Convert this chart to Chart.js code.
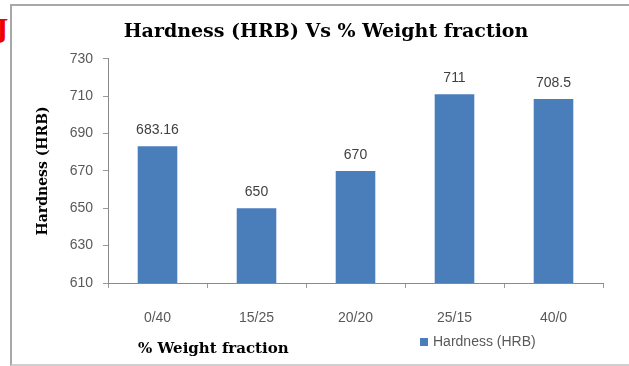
<!DOCTYPE html>
<html><head><meta charset="utf-8">
<script src="https://cdn.jsdelivr.net/npm/chart.js@4"></script>
<style>
html,body{margin:0;padding:0;background:#fff;width:629px;height:366px;overflow:hidden}
#frame{position:absolute;left:10px;top:4px;width:640px;height:358px;border-left:2px solid #a8a8a8;border-top:2px solid #a8a8a8;border-bottom:2px solid #cfcfcf;}
#j{position:absolute;left:-4px;top:13px;font:bold 26px "DejaVu Serif";color:#ee0000;line-height:32px}
#wrap{position:absolute;left:0;top:0;width:629px;height:366px}
</style></head><body>
<div id="j">J</div>
<div id="frame"></div>
<div id="wrap"><canvas id="c" width="629" height="366"></canvas></div>
<script>
const categories = ['0/40', '15/25', '20/20', '25/15', '40/0'];
const hardness = [683.16, 650, 670, 711, 708.5];
const valueLabels = ['683.16', '650', '670', '711', '708.5'];
const yTicks = [610, 630, 650, 670, 690, 710, 730];
const seriesName = 'Hardness (HRB)';
const chartTitle = 'Hardness (HRB) Vs % Weight fraction';
const xTitle = '% Weight fraction';
const yTitle = 'Hardness (HRB)';

const SANS = '"Liberation Sans", Arial, sans-serif';
const SERIF = '"DejaVu Serif", serif';
const BLUE = '#4a7ebb';

const extras = {
  id: 'extras',
  afterDatasetsDraw(chart) {
    const ctx = chart.ctx;
    const meta = chart.getDatasetMeta(0);
    const area = chart.chartArea;
    ctx.save();
    ctx.font = '14px ' + SANS;
    ctx.fillStyle = '#404040';
    ctx.textAlign = 'center';
    ctx.textBaseline = 'middle';
    meta.data.forEach((bar, i) => ctx.fillText(valueLabels[i], bar.x, bar.y - 16));
    // x-axis title, bottom left
    ctx.font = 'bold 15px ' + SERIF;
    ctx.fillStyle = '#000';
    ctx.textAlign = 'left';
    ctx.fillText(xTitle, area.left + 30, 349);
    // legend, bottom right
    const ds = chart.data.datasets[0];
    ctx.fillStyle = ds.backgroundColor;
    ctx.fillRect(area.left + 312, 338, 8, 8);
    ctx.font = '14px ' + SANS;
    ctx.fillStyle = '#595959';
    ctx.fillText(ds.label, area.left + 325, 342);
    ctx.restore();
  }
};

new Chart(document.getElementById('c'), {
  type: 'bar',
  data: {
    labels: categories,
    datasets: [{
      label: seriesName,
      data: hardness,
      backgroundColor: BLUE,
      barPercentage: 0.4,
      categoryPercentage: 1.0
    }]
  },
  options: {
    responsive: false,
    animation: false,
    devicePixelRatio: 1,
    layout: { padding: { left: 49, right: 26, top: 0, bottom: 23 } },
    plugins: {
      legend: { display: false },
      tooltip: { enabled: false },
      title: {
        display: true,
        text: chartTitle,
        color: '#000',
        font: { family: SERIF, size: 19, weight: 'bold' },
        padding: { top: 21, bottom: 15 }
      }
    },
    scales: {
      x: {
        grid: { drawOnChartArea: false, tickLength: 5, color: '#9a9a9a' },
        border: { color: '#8a8a8a' },
        ticks: { color: '#595959', font: { family: SANS, size: 14 }, padding: 22 },
        afterFit(s) { s.height = 60; }
      },
      y: {
        min: 610, max: 730,
        afterBuildTicks(s) { s.ticks = yTicks.map(v => ({ value: v })); },
        grid: { drawOnChartArea: false, tickLength: 5, color: '#9a9a9a' },
        border: { color: '#8a8a8a' },
        ticks: { color: '#595959', font: { family: SANS, size: 14 }, padding: 10 },
        title: {
          display: true, text: yTitle, color: '#000',
          font: { family: SERIF, size: 14, weight: 'bold' },
          padding: { top: -14, bottom: 0 }
        },
        afterFit(s) { s.width = 59; }
      }
    }
  },
  plugins: [extras]
});
</script>
</body></html>
